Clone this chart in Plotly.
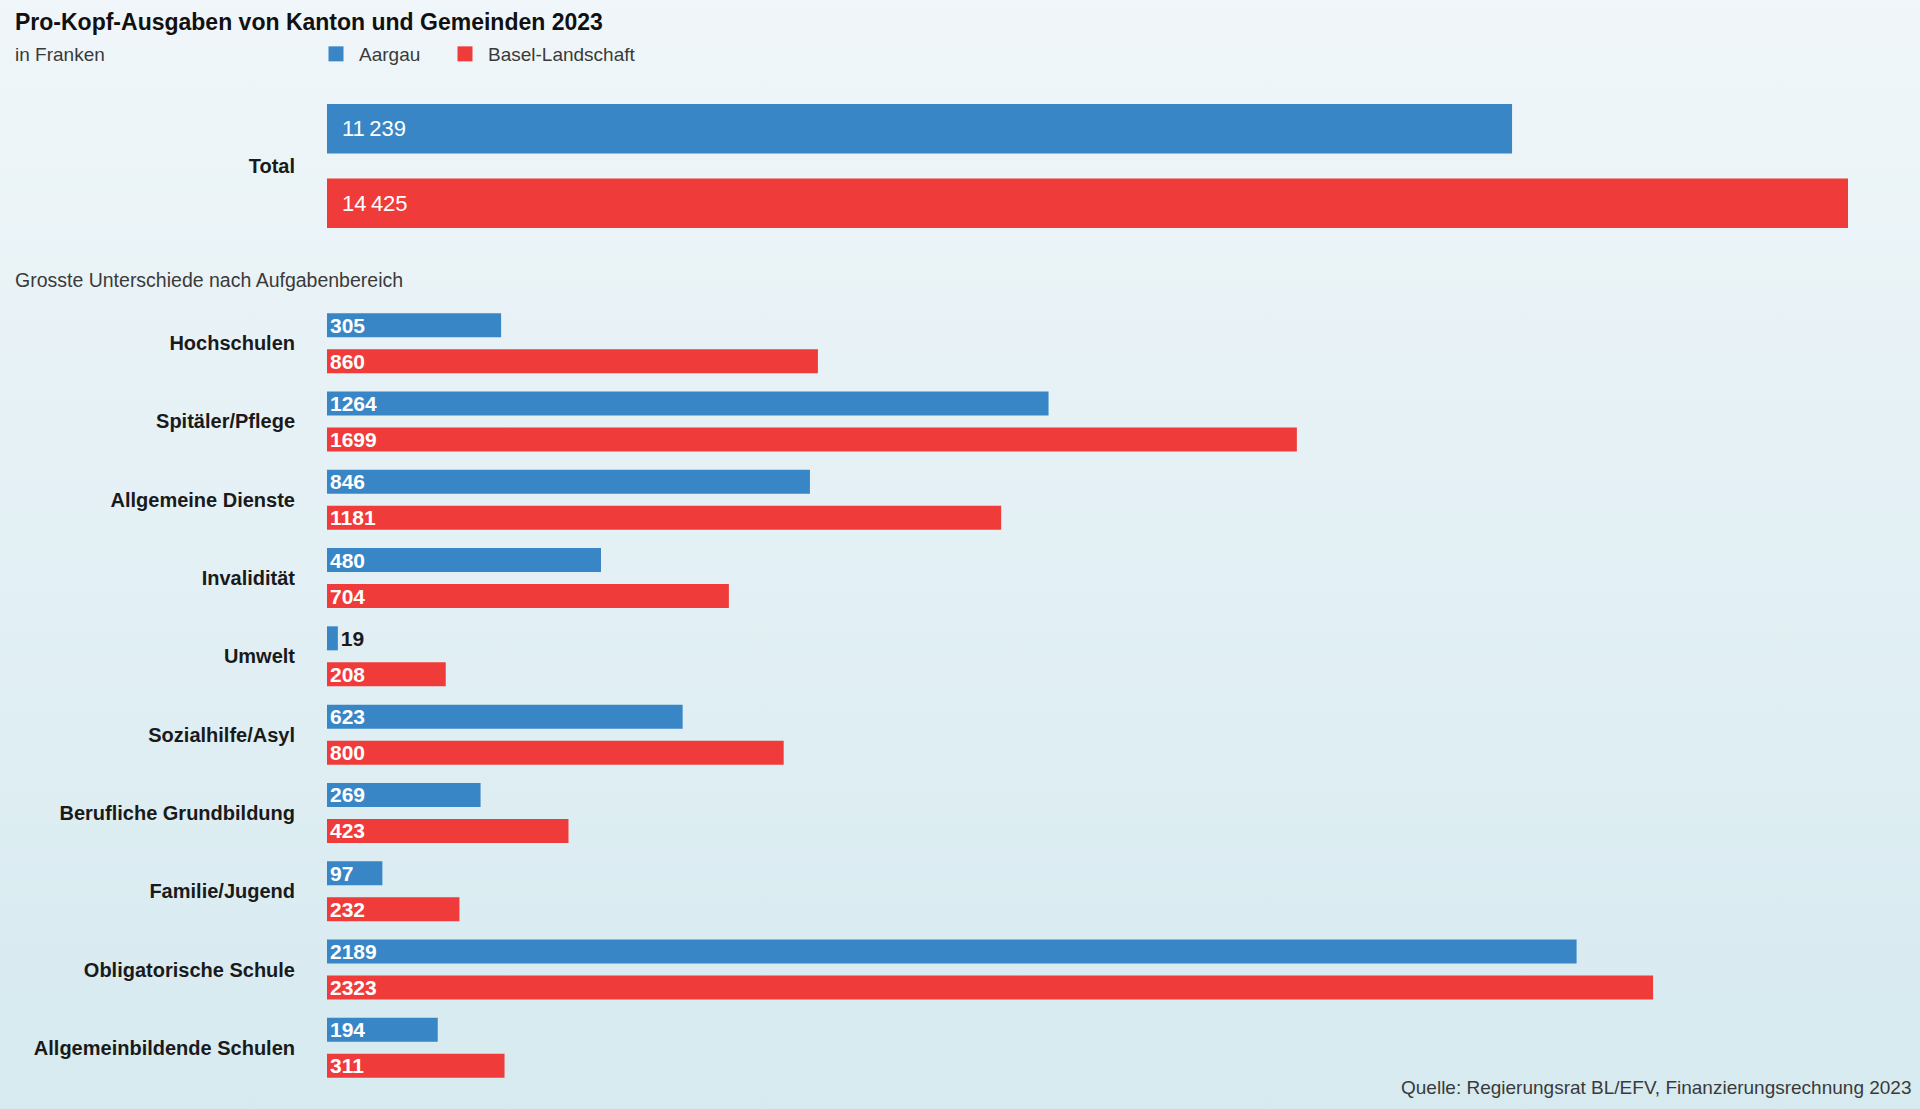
import base64
import plotly.graph_objects as go

# ---------------- data ----------------
title_text = "Pro-Kopf-Ausgaben von Kanton und Gemeinden 2023"
unit_text = "in Franken"
section_text = "Grosste Unterschiede nach Aufgabenbereich"
source_text = "Quelle: Regierungsrat BL/EFV, Finanzierungsrechnung 2023"

series_names = ["Aargau", "Basel-Landschaft"]

total_categories = ["Total"]
total_aargau = [11239]
total_basel = [14425]

categories = [
    "Hochschulen",
    "Spitäler/Pflege",
    "Allgemeine Dienste",
    "Invalidität",
    "Umwelt",
    "Sozialhilfe/Asyl",
    "Berufliche Grundbildung",
    "Familie/Jugend",
    "Obligatorische Schule",
    "Allgemeinbildende Schulen",
]
aargau = [305, 1264, 846, 480, 19, 623, 269, 97, 2189, 194]
basel = [860, 1699, 1181, 704, 208, 800, 423, 232, 2323, 311]

# ---------------- style ----------------
W, H = 1920, 1109
L, R = 327, 72
PW = W - L - R
BLUE = "#3886c6"
RED = "#ef3b39"
FONT = "Liberation Sans, Arial, sans-serif"
DARK = "#1a1a1a"
GREY = "#3a3a3a"


def xp(px):
    return (px - L) / PW


def yp(py):
    return 1 - py / H


def fmt_thousands(v):
    return f"{v:,}".replace(",", "\u2009")


fig = go.Figure()

# --- Total subplot ---
fig.add_trace(go.Bar(
    y=total_categories, x=total_aargau, orientation="h", name=series_names[0],
    marker=dict(color=BLUE, line=dict(width=0)), xaxis="x", yaxis="y",
    showlegend=False, hoverinfo="x+name",
))
fig.add_trace(go.Bar(
    y=total_categories, x=total_basel, orientation="h", name=series_names[1],
    marker=dict(color=RED, line=dict(width=0)), xaxis="x", yaxis="y",
    showlegend=False, hoverinfo="x+name",
))

# --- detail subplot ---
for vals, color, name in [(aargau, BLUE, series_names[0]), (basel, RED, series_names[1])]:
    fig.add_trace(go.Bar(
        y=categories, x=vals, orientation="h", name=name,
        marker=dict(color=color, line=dict(width=0)),
        text=[str(v) for v in vals],
        textposition=["inside" if v > 40 else "outside" for v in vals],
        insidetextanchor="start",
        insidetextfont=dict(family=FONT, size=21, color="white", weight="bold"),
        outsidetextfont=dict(family=FONT, size=21, color=DARK, weight="bold"),
        constraintext="none", cliponaxis=False,
        xaxis="x2", yaxis="y2", showlegend=False, hoverinfo="x+name",
    ))

# --- legend entries (one legend per series) ---
for color, name, leg in [(BLUE, series_names[0], "legend"), (RED, series_names[1], "legend2")]:
    fig.add_trace(go.Scatter(
        x=[None], y=[None], mode="markers", name=name,
        marker=dict(symbol="square", size=15, color=color),
        xaxis="x", yaxis="y", showlegend=True, legend=leg,
    ))

# gradient background
svg = (
    '<svg xmlns="http://www.w3.org/2000/svg" width="100" height="100" preserveAspectRatio="none">'
    '<defs><linearGradient id="g" x1="0" y1="0" x2="0" y2="1">'
    '<stop offset="0" stop-color="#f0f6f9"/>'
    '<stop offset="1" stop-color="#d6eaf0"/>'
    '</linearGradient></defs>'
    '<rect width="100" height="100" fill="url(#g)"/></svg>'
)
bg_src = "data:image/svg+xml;base64," + base64.b64encode(svg.encode()).decode()

annotations = [
    dict(text=f"<b>{title_text}</b>", x=xp(13), y=yp(22), xref="paper", yref="paper",
         xanchor="left", yanchor="middle", showarrow=False,
         font=dict(family=FONT, size=23, color="#111111")),
    dict(text=unit_text, x=xp(13), y=yp(54), xref="paper", yref="paper",
         xanchor="left", yanchor="middle", showarrow=False,
         font=dict(family=FONT, size=19, color=GREY)),
    dict(text=section_text, x=xp(13), y=yp(280), xref="paper", yref="paper",
         xanchor="left", yanchor="middle", showarrow=False,
         font=dict(family=FONT, size=19.5, color=GREY)),
    dict(text=source_text, x=xp(1914), y=yp(1087), xref="paper", yref="paper",
         xanchor="right", yanchor="middle", showarrow=False,
         font=dict(family=FONT, size=19, color=GREY)),
]
# bar geometry: bar 24px, gap 12px, pitch ~78px
bargap, groupgap = 0.08, 1 / 3
slot = (1 - bargap) / 2
for i, vals in enumerate([total_aargau, total_basel]):
    off = -(1 - bargap) / 2 + slot * (i + 0.5)
    for j, v in enumerate(vals):
        annotations.append(dict(
            text=fmt_thousands(v), x=0, y=j + off, xref="x", yref="y",
            xanchor="left", yanchor="middle", xshift=13, showarrow=False,
            font=dict(family=FONT, size=22, color="white"),
        ))

legend_common = dict(
    orientation="h", xref="paper", yref="paper", yanchor="middle",
    xanchor="left", bgcolor="rgba(0,0,0,0)", itemwidth=36,
    font=dict(family=FONT, size=19, color=GREY),
    itemclick=False, itemdoubleclick=False,
)

fig.update_layout(
    width=W, height=H,
    margin=dict(l=L, r=R, t=0, b=0, pad=0),
    paper_bgcolor="#e4f0f4",
    plot_bgcolor="rgba(0,0,0,0)",
    barmode="group", bargap=bargap, bargroupgap=groupgap,
    uniformtext=dict(minsize=21, mode="show"),
    font=dict(family=FONT, color=DARK),
    showlegend=True,
    legend=dict(x=xp(313), y=yp(54), **legend_common),
    legend2=dict(x=xp(442), y=yp(54), **legend_common),
    xaxis=dict(domain=[0, 1], range=[0, max(total_basel)], visible=False,
               showgrid=False, zeroline=False, anchor="y", fixedrange=True),
    yaxis=dict(domain=[yp(247), yp(85)], range=[0.5, -0.5], type="category",
               showgrid=False, zeroline=False, showline=False, ticks="",
               ticklabelstandoff=31, anchor="x", fixedrange=True,
               tickfont=dict(family=FONT, size=20, color=DARK, weight="bold")),
    xaxis2=dict(domain=[0, 1], range=[0, max(basel) * 1.147], visible=False,
                showgrid=False, zeroline=False, anchor="y2", fixedrange=True),
    yaxis2=dict(domain=[yp(1087), yp(304)], range=[len(categories) - 0.5, -0.5],
                type="category", showgrid=False, zeroline=False, showline=False,
                ticks="", ticklabelstandoff=31, anchor="x2", fixedrange=True,
                tickfont=dict(family=FONT, size=20, color=DARK, weight="bold")),
    annotations=annotations,
    images=[dict(source=bg_src, xref="paper", yref="paper", x=xp(0), y=1,
                 sizex=W / PW, sizey=1, xanchor="left", yanchor="top",
                 sizing="stretch", layer="below")],
)

fig.write_html("out.html", config={"displayModeBar": False})
